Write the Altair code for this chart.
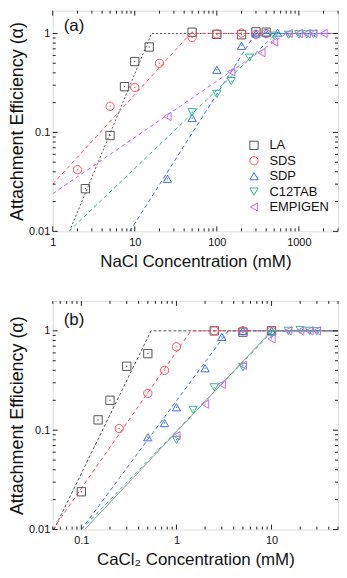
import altair as alt
import pandas as pd

FONT = "Liberation Sans"

SERIES = ["LA", "SDS", "SDP", "C12TAB", "EMPIGEN"]
SHAPES = ["square", "circle", "triangle-up", "triangle-down", "triangle-left"]
COLORS = ["#555555", "#ff4f5e", "#3f6fe8", "#35b88c", "#c06cf5"]

# ---------------- panel (a): NaCl ----------------
LA_a_x = [2.5, 5, 7.5, 10, 15, 50, 100, 200, 300, 400]
LA_a_y = [0.027, 0.093, 0.29, 0.52, 0.73, 1.03, 0.98, 0.97, 1.04, 1.03]
SDS_a_x = [2, 5, 10, 20, 50, 100, 200, 300, 400]
SDS_a_y = [0.042, 0.184, 0.285, 0.5, 0.91, 0.99, 1.01, 0.98, 1.0]
SDP_a_x = [25, 50, 100, 200, 300, 400, 550]
SDP_a_y = [0.034, 0.14, 0.43, 0.75, 1.0, 1.02, 1.02]
C12_a_x = [50, 100, 150, 250, 500, 750, 1000, 1250, 1500]
C12_a_y = [0.16, 0.245, 0.33, 0.57, 0.95, 0.97, 0.98, 0.98, 0.99]
EMP_a_x = [25, 150, 350, 500, 750, 1000, 1250, 1500, 2000]
EMP_a_y = [0.145, 0.41, 0.64, 0.82, 1.0, 1.0, 1.0, 1.0, 1.0]

# fitted lines (start, knee, end)
FIT_a_x = {"LA": [1.6, 16, 3000], "SDS": [1, 48, 3000], "SDP": [8.7, 295, 3000],
           "C12TAB": [1.57, 530, 3000], "EMPIGEN": [1, 700, 3000]}
FIT_a_y = {"LA": [0.01, 1, 1], "SDS": [0.03, 1, 1], "SDP": [0.01, 1, 1],
           "C12TAB": [0.01, 1, 1], "EMPIGEN": [0.024, 1, 1]}

# ---------------- panel (b): CaCl2 ----------------
LA_b_x = [0.1, 0.15, 0.2, 0.3, 0.5, 2.5, 5, 10]
LA_b_y = [0.024, 0.127, 0.2, 0.44, 0.59, 1.0, 0.97, 1.0]
SDS_b_x = [0.25, 0.5, 0.75, 1, 2.5, 5, 10]
SDS_b_y = [0.104, 0.235, 0.4, 0.69, 1.0, 1.0, 1.0]
SDP_b_x = [0.5, 0.75, 1, 2, 3, 5, 10]
SDP_b_y = [0.085, 0.118, 0.17, 0.42, 0.87, 1.0, 1.0]
C12_b_x = [1, 1.5, 2.5, 5, 10, 15, 20, 25, 30]
C12_b_y = [0.08, 0.16, 0.27, 0.43, 0.93, 1.0, 1.02, 1.0, 0.99]
EMP_b_x = [1, 2, 3, 5, 10, 15, 20, 25, 30]
EMP_b_y = [0.088, 0.183, 0.29, 0.45, 0.83, 1.0, 1.0, 1.0, 1.0]

FIT_b_x = {"LA": [0.0515, 0.54, 50], "SDS": [0.05, 1.42, 50], "SDP": [0.1, 3.5, 50],
           "C12TAB": [0.1, 10.4, 50], "EMPIGEN": [0.108, 10, 50]}
FIT_b_y = {"LA": [0.01, 1, 1], "SDS": [0.01, 1, 1], "SDP": [0.01, 1, 1],
           "C12TAB": [0.01, 1, 1], "EMPIGEN": [0.01, 1, 1]}

# tick values
XA_MAJOR = [1, 10, 100, 1000]
XA_MINOR = [2, 3, 4, 5, 6, 7, 8, 9, 20, 30, 40, 50, 60, 70, 80, 90,
            200, 300, 400, 500, 600, 700, 800, 900, 2000, 3000]
XB_MAJOR = [0.1, 1, 10]
XB_MINOR = [0.05, 0.06, 0.07, 0.08, 0.09, 0.2, 0.3, 0.4, 0.5, 0.6, 0.7, 0.8, 0.9,
            2, 3, 4, 5, 6, 7, 8, 9, 20, 30, 40, 50]
Y_MAJOR = [0.01, 0.1, 1]
Y_MINOR = [0.02, 0.03, 0.04, 0.05, 0.06, 0.07, 0.08, 0.09,
           0.2, 0.3, 0.4, 0.5, 0.6, 0.7, 0.8, 0.9]

LINE_STYLE_A = {"LA": ("#555555", [2, 2]), "SDS": ("#ff4f5e", [4, 3]),
                "SDP": ("#3f6fe8", [4, 3]), "C12TAB": ("#35b88c", [4, 3]),
                "EMPIGEN": ("#c06cf5", [4, 3])}
LINE_STYLE_B = {"LA": ("#555555", [3, 2]), "SDS": ("#ff4f5e", [4, 3]),
                "SDP": ("#3f6fe8", [4, 3]), "C12TAB": ("#35b88c", [4, 3]),
                "EMPIGEN": ("#8a8a8a", [1, 0])}


def points_df(xs, ys):
    rows = []
    for name, col, xv, yv in zip(SERIES, COLORS, xs, ys):
        for a, b in zip(xv, yv):
            rows.append({"series": name, "x": a, "y": b, "hex": col})
    return pd.DataFrame(rows)


def panel(pts, fit_x, fit_y, styles, xdom, ydom, xmaj, xmin, xtitle, tag, tag_y, W, H, legend):
    xs = alt.Scale(type="log", domain=xdom, nice=False)
    ys = alt.Scale(type="log", domain=ydom, nice=False)
    xaxis = alt.Axis(values=xmaj, format="~g", title=xtitle, ticks=False, domain=False,
                     grid=False, labelPadding=5, titlePadding=6, labelFontSize=11,
                     titleFontSize=17, labelFont=FONT, titleFont=FONT,
                     labelColor="#111", titleColor="#111", titleFontWeight="normal",
                     labelFlush=False, labelOverlap=False)
    yaxis = alt.Axis(values=Y_MAJOR, format="~g", title="Attachment Efficiency (α)",
                     ticks=False, domain=False, grid=False, labelPadding=3,
                     titlePadding=2, labelFontSize=11, titleFontSize=18,
                     labelFont=FONT, titleFont=FONT, labelColor="#111",
                     titleColor="#111", titleFontWeight="normal", labelFlush=False,
                     labelOverlap=False)
    X = lambda f: alt.X(f, scale=xs, axis=xaxis)
    Y = lambda f: alt.Y(f, scale=ys, axis=yaxis)
    layers = []
    for name in SERIES:
        col, dash = styles[name]
        df = pd.DataFrame({"x": fit_x[name], "y": fit_y[name], "o": [0, 1, 2]})
        layers.append(
            alt.Chart(df).mark_line(clip=True, color=col, strokeDash=dash, strokeWidth=1)
            .encode(x=X("x:Q"), y=Y("y:Q"), order="o:Q")
        )
    cscale = alt.Scale(domain=SERIES, range=COLORS)
    sscale = alt.Scale(domain=SERIES, range=SHAPES)
    if legend:
        leg = alt.Legend(orient="none", legendX=196, legendY=129, title=None, padding=0,
                         labelFontSize=13, labelFont=FONT, labelColor="#111",
                         symbolSize=70, symbolStrokeWidth=1, labelOffset=9,
                         rowPadding=1.5, symbolFillColor="transparent")
    else:
        leg = None
    layers.append(
        alt.Chart(pts).mark_point(filled=False, size=70, strokeWidth=1, clip=True, opacity=1)
        .encode(x=X("x:Q"), y=Y("y:Q"),
                color=alt.Color("series:N", scale=cscale, legend=leg),
                shape=alt.Shape("series:N", scale=sscale, legend=leg))
    )
    layers.append(
        alt.Chart(pts).mark_circle(size=2, opacity=1, clip=True)
        .encode(x=X("x:Q"), y=Y("y:Q"),
                color=alt.Color("hex:N", scale=None))
    )
    # inward ticks on all four sides
    for vals, ln in ((xmaj, 5), (xmin, 3)):
        tdf = pd.DataFrame({"v": [v for v in vals if xdom[0] <= v <= xdom[1]]})
        layers.append(alt.Chart(tdf).mark_rule(color="#222", strokeWidth=1).encode(
            x=X("v:Q"), y=alt.value(H), y2=alt.value(H - ln)))
        layers.append(alt.Chart(tdf).mark_rule(color="#222", strokeWidth=1).encode(
            x=X("v:Q"), y=alt.value(0), y2=alt.value(ln)))
    for vals, ln in ((Y_MAJOR, 5), (Y_MINOR, 3)):
        tdf = pd.DataFrame({"v": [v for v in vals if ydom[0] <= v <= ydom[1]]})
        layers.append(alt.Chart(tdf).mark_rule(color="#222", strokeWidth=1).encode(
            y=Y("v:Q"), x=alt.value(0), x2=alt.value(ln)))
        layers.append(alt.Chart(tdf).mark_rule(color="#222", strokeWidth=1).encode(
            y=Y("v:Q"), x=alt.value(W), x2=alt.value(W - ln)))
    tagdf = pd.DataFrame({"t": [tag]})
    layers.append(alt.Chart(tagdf).mark_text(align="left", baseline="middle", fontSize=17,
                                             font=FONT, color="#111")
                  .encode(text="t:N", x=alt.value(11), y=alt.value(tag_y)))
    return alt.layer(*layers).properties(width=W, height=H)


pts_a = points_df([LA_a_x, SDS_a_x, SDP_a_x, C12_a_x, EMP_a_x],
                  [LA_a_y, SDS_a_y, SDP_a_y, C12_a_y, EMP_a_y])
pts_b = points_df([LA_b_x, SDS_b_x, SDP_b_x, C12_b_x, EMP_b_x],
                  [LA_b_y, SDS_b_y, SDP_b_y, C12_b_y, EMP_b_y])

pa = panel(pts_a, FIT_a_x, FIT_a_y, LINE_STYLE_A, [1, 3000], [0.01, 1.7],
           XA_MAJOR, XA_MINOR, "NaCl Concentration (mM)", "(a)", 15, 287, 222, True)
pb = panel(pts_b, FIT_b_x, FIT_b_y, LINE_STYLE_B, [0.05, 50], [0.01, 2.0],
           XB_MAJOR, XB_MINOR, "CaCl₂ Concentration (mM)", "(b)", 19, 287, 230, False)

chart = (
    alt.vconcat(pa, pb, spacing=30)
    .resolve_scale(x="independent", y="independent", color="independent", shape="independent")
    .properties(padding={"left": 0, "top": 0, "right": 0, "bottom": 0})
    .configure_view(stroke="#222", strokeWidth=1)
    .configure(background="white")
)

chart.save("out.html", embed_options={"renderer": "svg", "actions": False})
